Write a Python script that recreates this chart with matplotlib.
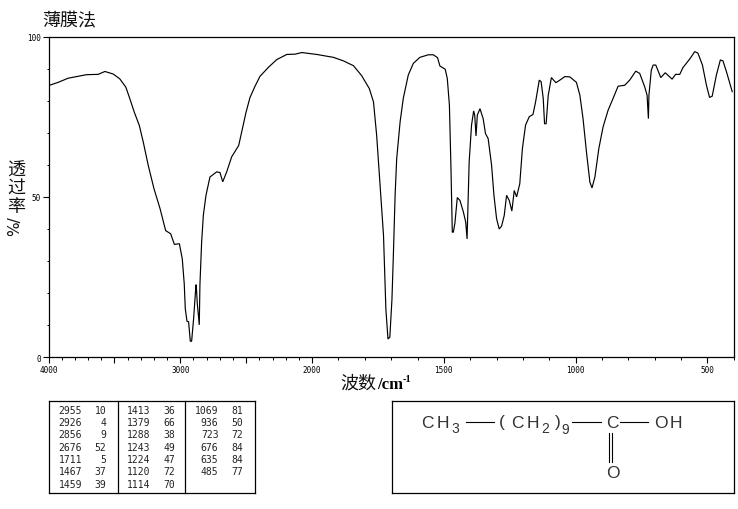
import numpy as np
import matplotlib
matplotlib.use("Agg")
import matplotlib.pyplot as plt
from matplotlib.lines import Line2D

wavenumber = [4000,3927,3851,3711,3623,3572,3509,3459,3413,3382,3349,3311,3281,3243,3200,3154,3111,3073,3045,3007,
 2985,2970,2962,2949,2937,2924,2914,2899,2881,2879,2871,2856,2851,2838,2825,2805,2775,2724,2699,2678,2648,2610,2557,2529,2501,2471,2433,2395,2331,2268,2192,2129,2078,
 1982,1919,1881,1843,1812,1783,1767,1755,1742,1729,1720,1712,1705,1697,1692,1685,1679,1666,1654,1635,1616,1591,1559,1540,1524,1515,1495,1487,1479,1473,1468,1464,1458,1449,1439,1426,1417,1412,1410,1404,1395,1387,1383,1378,1373,1363,1351,1342,1332,1319,1310,1300,1290,1281,1271,1262,1252,1242,1233,1224,1212,1202,1190,1176,1162,1152,1138,1131,1123,1118,1112,1104,1092,1075,1060,1041,1022,997,984,972,959,946,938,927,912,896,877,858,839,814,795,772,757,738,729,724,722,713,706,696,677,660,634,621,605,593,567,548,536,519,504,492,482,466,451,441,426,406]
transmittance = [84.7,85.7,87.0,88.1,88.2,89.1,88.3,86.8,84.2,80.5,76.4,72.3,67.1,59.8,52.6,46.4,39.5,38.5,35.2,35.4,
 30.7,22.9,15.1,11.2,11.1,5,5,12,22.6,22.6,16.7,10.1,22.6,35.9,44.3,50.5,56.2,57.8,57.6,54.7,57.8,62.5,66,71.2,76.4,81,84.5,87.6,90.4,92.8,94.4,94.5,95,
 94.4,93.5,92.4,90.9,87.8,83.8,79.6,69.2,53.6,38,15,5.7,6.3,18,30.7,50.5,61.9,73.4,80.7,88,91.6,93.5,94.3,94.3,93.4,90.8,89.8,86.9,78.6,58.8,39,39,41.9,49.8,48.9,45.3,42.1,36.9,43.2,60.9,72.4,76.8,75.5,69,75.5,77.5,74.4,69.7,68.2,59.9,50.5,43.2,40,40.9,44.2,50.5,48.9,45.6,52,50,54.1,65.1,72.4,75,75.7,79.6,86.4,85.9,80.7,72.8,72.8,81.7,87.2,85.6,86.4,87.5,87.4,85.7,81.7,74.4,64,54.6,52.8,56.2,65.1,71.8,77,80.7,84.5,84.8,86.4,89.2,88.5,84.3,81.7,74.4,81.7,89.5,91.1,91.1,87.2,88.7,86.7,88.2,88.2,90.3,93,95.3,94.8,91.1,84.9,81,81.4,88,92.7,92.4,88.5,82.8]
x_major = [4000,3000,2000,1500,1000,500]
y_major = [0,50,100]
peak_columns = [
 [("2955",10),("2926",4),("2856",9),("2676",52),("1711",5),("1467",37),("1459",39)],
 [("1413",36),("1379",66),("1288",38),("1243",49),("1224",47),("1120",72),("1114",70)],
 [("1069",81),("936",50),("723",72),("676",84),("635",84),("485",77)],
]

W, H = 738, 510
plt.rcParams['font.family'] = ['Noto Sans CJK SC', 'DejaVu Sans']
fig = plt.figure(figsize=(W/100, H/100), dpi=100, facecolor='white')
L, R, T, B = 48.5, 733.8, 37.5, 358.3
ax = fig.add_axes([L/W, 1-B/H, (R-L)/W, (B-T)/H])

brk_w = [400, 2000, 4000]
brk_u = [0, 422.4, 686.4]
fwd = lambda v: np.interp(np.asarray(v, float), brk_w, brk_u)
inv = lambda u: np.interp(np.asarray(u, float), brk_u, brk_w)
ax.set_xscale('function', functions=(fwd, inv))
ax.plot(wavenumber, transmittance, color='black', lw=0.85, solid_joinstyle='miter')

for s in ax.spines.values():
    s.set_linewidth(0.9)
ax.set_xticks(x_major + [3500, 2500])
ax.set_xticklabels([str(v) for v in x_major] + ['', ''], family='DejaVu Sans Mono', fontsize=5.5)
ax.set_xticks(list(range(400, 2000, 100)) + list(range(2100, 4000, 100)), minor=True)
ax.set_yticks(y_major)
ax.set_yticklabels([str(v) for v in y_major], family='DejaVu Sans Mono', fontsize=5.5)
ax.set_yticks(range(10, 100, 10), minor=True)
ax.tick_params(which='major', length=4, width=0.8, pad=1.5)
ax.tick_params(which='minor', length=1.8, width=0.7)
ax.xaxis.set_minor_formatter(plt.NullFormatter())
ax.set_xlim(4000, 400)
ax.set_ylim(0, 100)

def px(x, y, s, **kw):
    kw.setdefault('ha', 'left'); kw.setdefault('va', 'center')
    return fig.text(x/W, 1-y/H, s, **kw)

def seg(x0, y0, x1, y1, lw=0.9):
    fig.add_artist(Line2D([x0/W, x1/W], [1-y0/H, 1-y1/H], color='black', lw=lw, transform=fig.transFigure))

cjk = 'Noto Sans CJK SC'
px(42.5, 21, '薄膜法', fontsize=13, family=cjk, color='#111111')
for i, c in enumerate('透过率'):
    px(16, 171+i*18, c, fontsize=13, family=cjk, ha='center', color='#111111')
px(15, 226, '%/', fontsize=11, family='DejaVu Sans', rotation=90, ha='center', color='#111111')
px(340, 384, '波数', fontsize=13, family=cjk, color='#111111')
px(377, 385, '/cm', fontsize=12, family='Liberation Serif', weight='bold')
px(402.5, 379, '-1', fontsize=7.5, family='Liberation Serif', weight='bold')

# peak table
for x0, x1 in [(48.5, 254.5), (391.5, 733.5)]:
    seg(x0, 401.5, x1, 401.5); seg(x0, 493.5, x1, 493.5)
    seg(x0, 401.5, x0, 493.5); seg(x1, 401.5, x1, 493.5)
seg(117.5, 401.5, 117.5, 493.5); seg(185, 401.5, 185, 493.5)
for col, (xw, xt) in zip(peak_columns, [(82, 106.5), (150, 175), (218.5, 243.5)]):
    for r, (w, t) in enumerate(col):
        y = 410.5 + r*12.4
        px(xw, y, w, fontsize=7, family='DejaVu Sans Mono', ha='right', color='#222222')
        px(xt, y, str(t), fontsize=7, family='DejaVu Sans Mono', ha='right', color='#222222')

# structure
sf = dict(family='Liberation Sans', fontsize=12.5, color='#333333')
sub = dict(family='Liberation Sans', fontsize=10, color='#333333')
px(421, 423, 'C', **sf); px(437, 423, 'H', **sf)
px(451, 429, '3', **sub)
seg(466, 423, 494, 423, 0.8)
px(499, 423, '(', **sf)
px(511, 423, 'C', **sf); px(527, 423, 'H', **sf)
px(541, 429, '2', **sub)
px(555, 423, ')', **sf)
px(561, 430, '9', **sub)
seg(572, 423, 601, 423, 0.8)
px(606, 423, 'C', **sf)
seg(620, 423, 648, 423, 0.8)
px(654, 423, 'O', **sf); px(670, 423, 'H', **sf)
seg(608.5, 434, 608.5, 463, 0.8); seg(612, 434, 612, 463, 0.8)
px(606, 474, 'O', **sf)

fig.savefig('out.png', dpi=100, facecolor='white')
